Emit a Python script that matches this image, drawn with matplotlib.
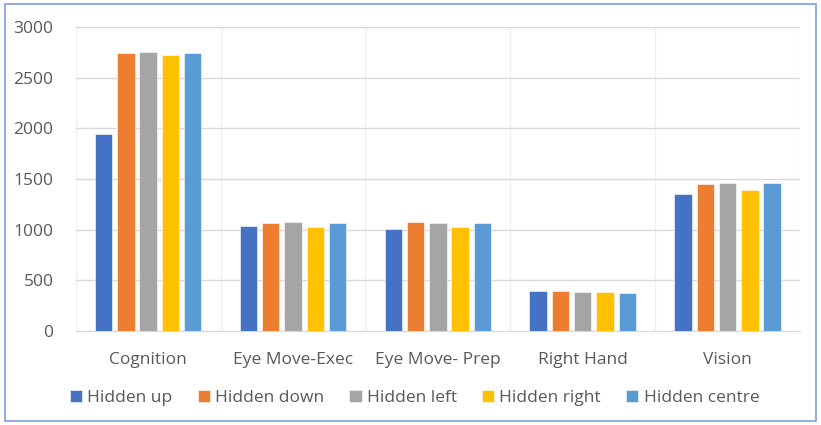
import matplotlib.pyplot as plt
from matplotlib.patches import Rectangle
import numpy as np

plt.rcParams["font.family"] = ["Open Sans", "DejaVu Sans"]

categories = ["Cognition", "Eye Move-Exec", "Eye Move- Prep", "Right Hand", "Vision"]
series = ["Hidden up", "Hidden down", "Hidden left", "Hidden right", "Hidden centre"]
hidden_up = [1948, 1032, 1005, 396, 1347]
hidden_down = [2745, 1068, 1080, 393, 1446]
hidden_left = [2755, 1075, 1064, 389, 1463]
hidden_right = [2727, 1028, 1031, 383, 1390]
hidden_centre = [2748, 1068, 1070, 376, 1456]
colors = ["#4472C4", "#ED7D31", "#A5A5A5", "#FFC000", "#5B9BD5"]

values = [hidden_up, hidden_down, hidden_left, hidden_right, hidden_centre]
text_col = "#595959"

fig = plt.figure(figsize=(8.21, 4.25), dpi=100)
ax = fig.add_axes([0.0922, 0.2212, 0.8822, 0.7153])

x = np.arange(len(categories))
step = 0.154
width = 0.12
for i, (name, vals) in enumerate(zip(series, values)):
    ax.bar(x + (i - 2) * step, vals, width, color=colors[i], label=name,
           edgecolor="white", linewidth=0.4, zorder=3)

ax.set_xlim(-0.5, 4.5)
ax.set_ylim(0, 3000)
ax.set_yticks(range(0, 3001, 500))
ax.set_xticks(x)
ax.set_xticklabels(categories)
ax.set_xticks(np.arange(-0.5, 4.6, 0.5), minor=True)
ax.grid(axis="y", color="#d9d9d9", linewidth=1, zorder=0)
ax.grid(axis="x", which="minor", color="#f0f0f0", linewidth=1, zorder=0)
ax.tick_params(axis="both", length=0, labelsize=12.5, colors=text_col)
ax.tick_params(axis="x", which="minor", length=0)
ax.tick_params(axis="x", pad=15)
ax.tick_params(axis="y", pad=16)
for s in ["top", "right", "left"]:
    ax.spines[s].set_visible(False)
ax.spines["bottom"].set_color("#d9d9d9")

leg = fig.legend(loc="center", bbox_to_anchor=(0.505, 0.063), ncol=5, frameon=False,
                 fontsize=12.5, handlelength=0.7, handleheight=0.7, handletextpad=0.3,
                 columnspacing=1.45)
for t in leg.get_texts():
    t.set_color(text_col)

fig.patches.append(Rectangle((0.006, 0.009), 0.988, 0.982, transform=fig.transFigure,
                             fill=False, edgecolor="#7f9fd9", linewidth=1.2))

fig.savefig("out.png", dpi=100)
